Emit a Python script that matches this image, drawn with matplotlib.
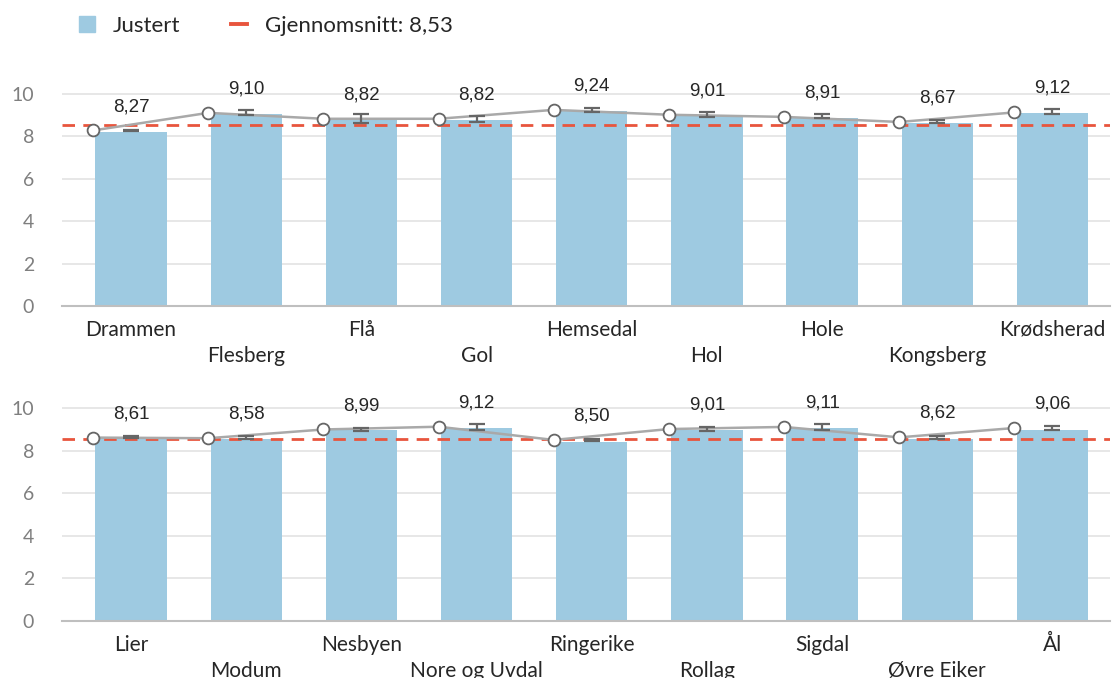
import numpy as np
import matplotlib
matplotlib.use("Agg")
import matplotlib.pyplot as plt
from matplotlib.lines import Line2D

AVG = 8.53

names_top = ["Drammen", "Flesberg", "Flå", "Gol", "Hemsedal", "Hol", "Hole", "Kongsberg", "Krødsherad"]
raw_top = [8.27, 9.10, 8.82, 8.82, 9.24, 9.01, 8.91, 8.67, 9.12]
adj_top = [8.21, 9.06, 8.80, 8.76, 9.20, 8.97, 8.88, 8.62, 9.07]
err_mid_top = [8.28, 9.13, 8.84, 8.82, 9.25, 9.02, 8.95, 8.69, 9.15]
err_top = [0.03, 0.12, 0.22, 0.15, 0.10, 0.10, 0.10, 0.07, 0.11]

names_bot = ["Lier", "Modum", "Nesbyen", "Nore og Uvdal", "Ringerike", "Rollag", "Sigdal", "Øvre Eiker", "Ål"]
raw_bot = [8.61, 8.58, 8.99, 9.12, 8.50, 9.01, 9.11, 8.62, 9.06]
adj_bot = [8.60, 8.53, 8.95, 9.05, 8.42, 8.95, 9.05, 8.55, 8.98]
err_mid_bot = [8.63, 8.60, 9.00, 9.12, 8.48, 9.02, 9.12, 8.62, 9.06]
err_bot = [0.05, 0.07, 0.08, 0.15, 0.04, 0.10, 0.14, 0.06, 0.10]

BAR = "#9ecae1"
RED = "#e8553d"
LINE = "#a9a9a9"
DARK = "#666666"
TXT = "#262626"
LAB_FONT = ["Lato", "DejaVu Sans"]
NUM_FONT = ["Liberation Sans", "DejaVu Sans"]


def fmt(v):
    return f"{v:.2f}".replace(".", ",")


def draw_panel(ax, names, raw, adj, err_mid, err):
    x = np.arange(len(names))
    ax.set_xlim(-0.6, 8.5)
    ax.set_ylim(0, 11.5)
    ax.set_yticks(range(0, 11, 2))
    ax.grid(axis="y", color="#e3e3e3", linewidth=1.2, zorder=0)
    ax.set_axisbelow(True)
    for s in ["top", "right", "left"]:
        ax.spines[s].set_visible(False)
    ax.spines["bottom"].set_color("#bfbfbf")
    ax.spines["bottom"].set_linewidth(1.5)
    ax.tick_params(axis="y", length=0, pad=20, labelsize=14, labelcolor="#7f7f7f")
    for lab in ax.get_yticklabels():
        lab.set_family(LAB_FONT)
    ax.set_xticks([])

    ax.bar(x, adj, width=0.62, color=BAR, zorder=2)
    ax.axhline(AVG, color=RED, linestyle=(0, (4.5, 3)), linewidth=2, zorder=3)
    xm = x - 0.33
    ax.plot(xm, raw, color=LINE, linewidth=1.8, zorder=4)
    ax.errorbar(x, err_mid, yerr=err, fmt="none", ecolor=DARK, elinewidth=1.6,
                capsize=6, capthick=1.6, zorder=5)
    ax.plot(xm, raw, "o", markersize=8.5, markerfacecolor="white",
            markeredgecolor=DARK, markeredgewidth=1.3, zorder=6)
    for i, v in enumerate(raw):
        ax.annotate(fmt(v), (x[i], v), xytext=(0, 14), textcoords="offset points",
                    ha="center", va="baseline", fontsize=13.5, color=TXT, family=NUM_FONT)
    for i, n in enumerate(names):
        dy = -10 if i % 2 == 0 else -29
        ax.annotate(n, (x[i], 0), xycoords=("data", "axes fraction"), xytext=(0, dy),
                    textcoords="offset points", ha="center", va="top",
                    fontsize=15, color=TXT, family=LAB_FONT)


fig = plt.figure(figsize=(11.13, 6.78), dpi=100)
ax1 = fig.add_axes([0.0557, 0.5487, 0.9416, 0.36])
ax2 = fig.add_axes([0.0557, 0.0841, 0.9416, 0.3613])
draw_panel(ax1, names_top, raw_top, adj_top, err_mid_top, err_top)
draw_panel(ax2, names_bot, raw_bot, adj_bot, err_mid_bot, err_bot)

handles = [
    Line2D([], [], linestyle="none", marker="s", markersize=11, color=BAR),
    Line2D([], [], color=RED, linewidth=2.8),
]
fig.legend(handles, ["Justert", "Gjennomsnitt: " + fmt(AVG)], loc="upper left",
           bbox_to_anchor=(0.0714, 0.976), ncol=2, frameon=False, handlelength=0.7,
           handletextpad=0.8, columnspacing=2.3, borderpad=0, borderaxespad=0,
           prop={"family": LAB_FONT, "size": 16})
for t in fig.legends[0].get_texts():
    t.set_color(TXT)

fig.savefig("out.png", dpi=100)
